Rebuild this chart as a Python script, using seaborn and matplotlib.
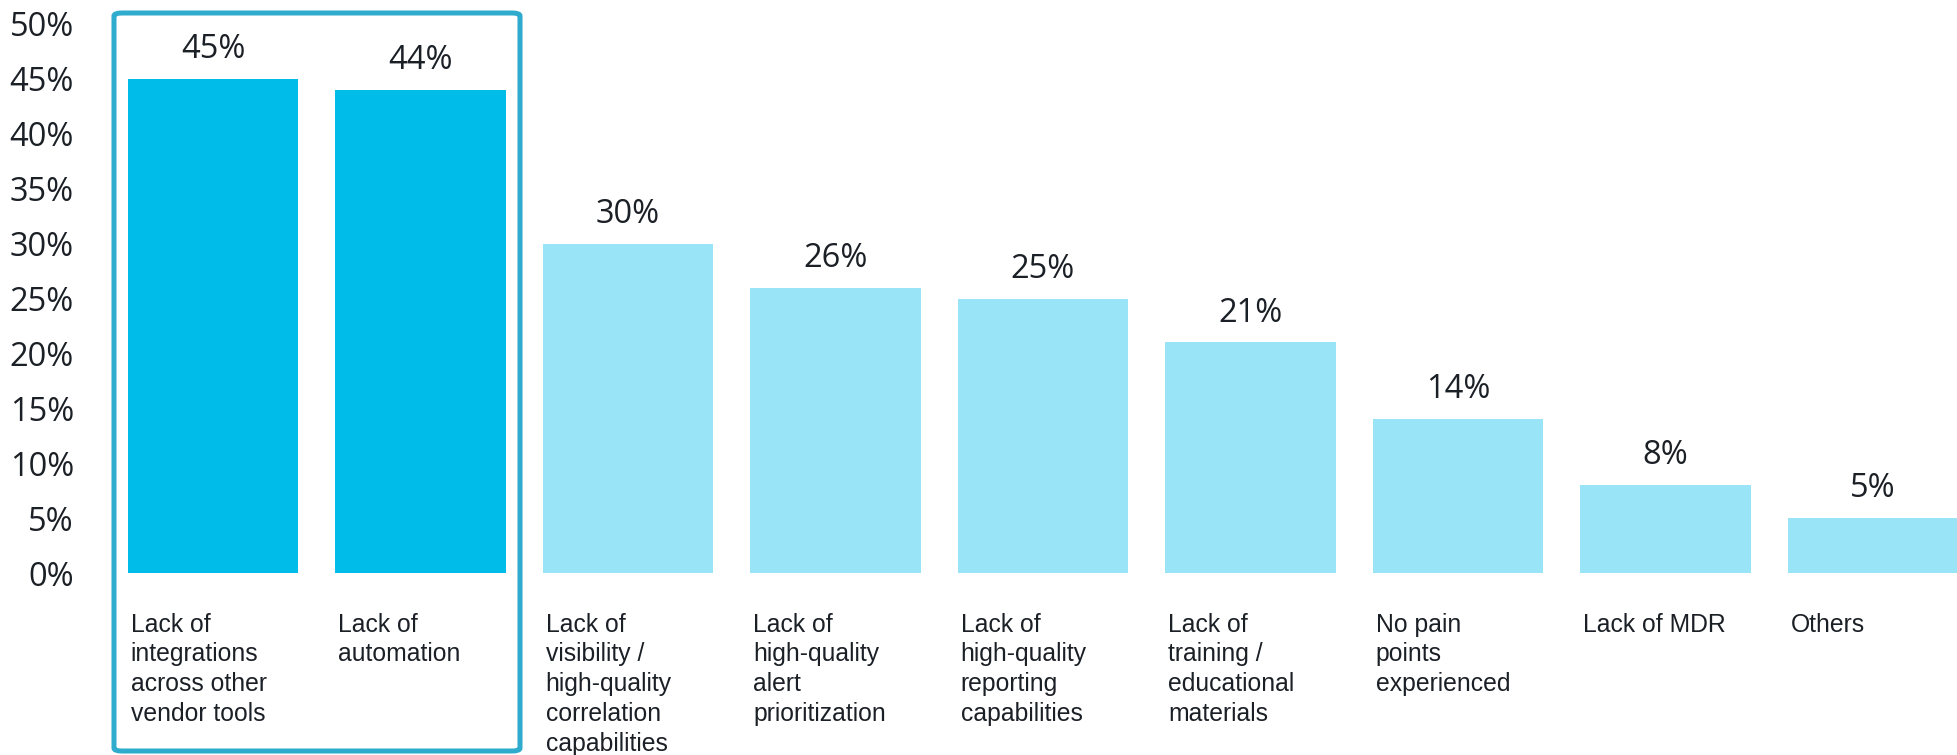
import matplotlib
matplotlib.use("Agg")
import matplotlib.pyplot as plt
import seaborn as sns
from matplotlib.patches import FancyBboxPatch
from matplotlib.ticker import FuncFormatter

categories = [
    "Lack of\nintegrations\nacross other\nvendor tools",
    "Lack of\nautomation",
    "Lack of\nvisibility /\nhigh-quality\ncorrelation\ncapabilities",
    "Lack of\nhigh-quality\nalert\nprioritization",
    "Lack of\nhigh-quality\nreporting\ncapabilities",
    "Lack of\ntraining /\neducational\nmaterials",
    "No pain\npoints\nexperienced",
    "Lack of MDR",
    "Others",
]
values = [45, 44, 30, 26, 25, 21, 14, 8, 5]
highlight = [True, True, False, False, False, False, False, False, False]
yticks = [0, 5, 10, 15, 20, 25, 30, 35, 40, 45, 50]

DARK = "#00bce8"
LIGHT = "#9ae4f7"
BOX = "#2eabcd"
TEXT = "#1b2026"

sns.set_theme(style="white")
plt.rcParams["font.family"] = ["Open Sans", "DejaVu Sans"]

W, H = 1957, 755
fig = plt.figure(figsize=(W / 100, H / 100), dpi=100)

# axes geometry (pixels)
pitch = 207.5
c0 = 213.0
x_left_px = c0 - 0.5 * pitch
x_right_px = W
y0_px, y50_px = 573, 24
ax = fig.add_axes([x_left_px / W, (H - y0_px) / H,
                   (x_right_px - x_left_px) / W, (y0_px - y50_px) / H])

colors = [DARK if h else LIGHT for h in highlight]
sns.barplot(x=list(range(len(values))), y=values, hue=list(range(len(values))),
            palette=colors, width=0.824, legend=False, ax=ax, saturation=1,
            linewidth=0)

ax.set_xlim(-0.5, (x_right_px - c0) / pitch)
ax.set_ylim(0, 50)
ax.set_yticks(yticks)
ax.yaxis.set_major_formatter(FuncFormatter(lambda v, p: f"{int(v)}%"))
ax.tick_params(axis="y", length=0, pad=25.5, labelsize=23.5, labelcolor=TEXT)
ax.set_xticks([])
ax.set_xlabel("")
ax.set_ylabel("")
for s in ax.spines.values():
    s.set_visible(False)

for i, v in enumerate(values):
    ax.text(i, v + 1.9, f"{v}%", ha="center", va="baseline", fontsize=23.5,
            color=TEXT, clip_on=False)
    ax.text(i - 0.412 + 0.015, -3.6, categories[i], ha="left", va="top",
            fontsize=17.8, color=TEXT, family=["Liberation Sans", "DejaVu Sans"],
            linespacing=1.31, clip_on=False)

# highlight box
bx0, by0, bx1, by1 = 114, 13, 520, 751
box = FancyBboxPatch((bx0 / W, (H - by1) / H), (bx1 - bx0) / W, (by1 - by0) / H,
                     boxstyle="round,pad=0,rounding_size=0.004",
                     transform=fig.transFigure, fill=False, edgecolor=BOX,
                     linewidth=3.6, clip_on=False)
fig.patches.append(box)

fig.savefig("out.png", dpi=100)
